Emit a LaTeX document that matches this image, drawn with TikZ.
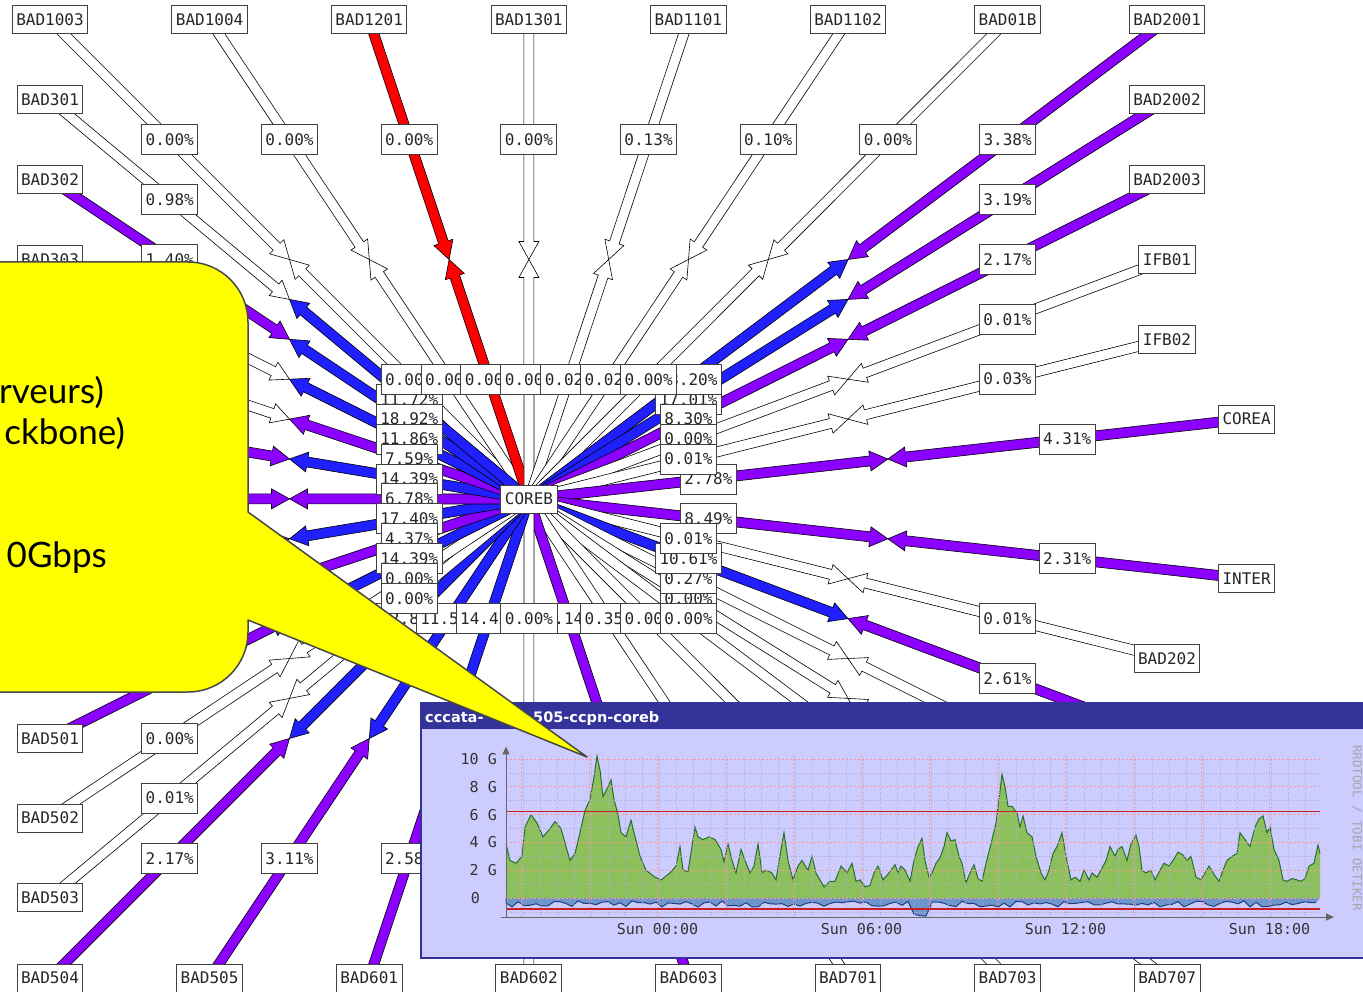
\documentclass[tikz,border=0pt]{standalone}
\usepackage{fontspec}
\setmainfont{DejaVu Sans}
\newfontfamily\mapfont{DejaVu Sans Mono}
\newfontfamily\notefont{Lato}
\usetikzlibrary{calc, backgrounds, arrows.meta}

\definecolor{linkpurple}{RGB}{140,0,255}
\definecolor{linkblue}{RGB}{32,32,255}
\definecolor{linkred}{RGB}{255,0,0}
\definecolor{rrdhead}{RGB}{51,51,153}
\definecolor{rrdbg}{RGB}{204,204,255}
\definecolor{rrdgreen}{RGB}{140,192,92}
\definecolor{rrdgreenline}{RGB}{40,110,50}
\definecolor{rrdblue}{RGB}{110,150,205}
\definecolor{rrdblueline}{RGB}{30,60,130}
\definecolor{rrdred}{RGB}{200,30,40}
\definecolor{gridmajor}{RGB}{255,150,150}
\definecolor{gridminor}{RGB}{175,175,205}
\definecolor{bubble}{RGB}{255,255,0}

% one half of a link: shaft starting at #1, arrow head ending at #2
\newcommand{\halflink}[3]{%
  \coordinate (hb) at ($(#2)!18pt!(#1)$);
  \filldraw[fill=#3, draw=black, line width=0.6pt]
    ($(#1)!5pt!-90:(#2)$) -- ($(hb)!5pt!-90:(#2)$) -- ($(hb)!10pt!-90:(#2)$) -- (#2)
    -- ($(hb)!10pt!90:(#2)$) -- ($(hb)!5pt!90:(#2)$) -- ($(#1)!5pt!90:(#2)$) -- cycle;}

% both halves of a link to COREB, meeting in the middle
\newcommand{\maplink}[3]{%
  \coordinate (mid) at ($(#1)!0.5!(coreb)$);
  \halflink{#1}{mid}{#2}
  \halflink{coreb}{mid}{#3}}

% load labels, near the outer end and near COREB
\newcommand{\outpct}[2]{\node[pctbox] (out-#1) at ($(#1)!0.25!(coreb)$) {#2};}
\newcommand{\inpct}[2]{\node[pctbox] (in-#1) at ($(#1)!0.75!(coreb)$) {#2};}

% inbound traffic, hours offset (pt) / Gbps
\def\rrdin{0/3.9, 4/2.7, 10/2.5, 16/3.0, 19/5.1, 25/6.0, 31/5.4, 37/4.4, 43/4.9, 49/5.5, 55/5.0, 60/3.7, 64/2.7, 69/3.2, 73/4.4, 79/6.3, 84/7.1, 88/8.7, 91/10.2, 94/9.2, 97/7.3, 102/8.0, 105/8.5, 108/7.1, 112/6.0, 115/4.7, 120/4.4, 125/5.6, 128/4.7, 134/3.0, 140/2.0, 149/1.5, 155/1.3, 164/1.8, 170/2.3, 174/3.7, 177/2.0, 182/1.9, 186/3.7, 189/5.1, 192/4.4, 197/4.2, 203/4.4, 209/4.2, 215/3.5, 218/2.6, 222/3.9, 226/2.7, 230/1.8, 235/3.5, 239/2.7, 244/1.8, 248/2.3, 252/3.9, 256/1.8, 260/2.0, 266/1.8, 270/1.3, 275/3.5, 278/4.7, 282/2.7, 287/1.3, 292/2.3, 296/2.7, 302/2.0, 306/3.0, 310/1.8, 314/1.3, 318/0.8, 324/1.2, 329/1.2, 335/2.3, 341/1.8, 346/2.5, 350/1.2, 354/1.3, 359/0.8, 364/0.9, 368/1.8, 372/2.3, 377/1.3, 383/1.8, 389/2.4, 392/1.8, 395/2.3, 399/2.0, 404/1.2, 408/2.7, 412/3.7, 416/4.3, 419/2.7, 423/1.5, 426/1.8, 430/2.5, 434/2.9, 438/3.7, 441/4.7, 445/4.1, 449/4.2, 453/3.0, 456/2.5, 460/1.1, 464/1.8, 468/2.4, 472/1.4, 476/1.2, 480/2.5, 485/3.9, 490/5.4, 493/7.1, 496/8.9, 499/8.0, 502/6.6, 506/6.6, 511/6.1, 514/5.1, 517/5.9, 521/4.7, 526/4.4, 530/3.0, 535/1.8, 539/1.3, 543/2.0, 547/3.2, 551/3.7, 556/4.7, 560/3.0, 565/1.3, 569/1.5, 574/1.2, 578/2.0, 583/1.3, 586/1.8, 591/1.5, 595/2.0, 600/2.7, 604/3.7, 609/3.0, 612/3.5, 616/3.7, 621/2.7, 625/3.9, 630/4.5, 633/3.7, 636/2.0, 640/1.8, 645/2.0, 649/1.3, 654/2.0, 658/2.5, 663/2.3, 667/2.7, 672/3.3, 677/3.1, 681/2.7, 685/3.0, 690/1.5, 695/1.3, 699/1.8, 703/2.3, 708/1.7, 713/1.2, 717/2.0, 721/2.7, 726/3.0, 731/3.2, 734/4.7, 739/4.2, 744/3.7, 749/5.1, 753/5.7, 757/5.9, 761/4.7, 764/5.1, 768/3.5, 773/2.7, 777/1.3, 781/1.2, 786/1.4, 791/1.3, 795/1.2, 799/1.4, 803/2.3, 808/2.5, 812/3.8, 814/3.2}

\begin{document}
\begin{tikzpicture}[x=1pt, y=-1pt,
    nodebox/.style={draw=black!75, fill=white, line width=1pt, inner xsep=4pt, inner ysep=0pt,
      minimum height=28pt, text=black!85, font=\mapfont\fontsize{16}{18}\selectfont},
    pctbox/.style={nodebox, minimum height=30pt},
    axlabel/.style={inner sep=0pt, text=black!80, font=\mapfont\fontsize{15}{17}\selectfont},
    axis/.style={draw=black!60, line width=1pt, -{Triangle[length=8pt, width=7pt]}},
    callout/.style={fill=bubble, draw=black!72, line width=1.5pt, line join=round},
    notetext/.style={anchor=base east, inner sep=0pt, font=\notefont\fontsize{35}{40}\selectfont}
]
\useasboundingbox (0,0) rectangle (1363,992);
\clip (0,0) rectangle (1363,992);

% weathermap nodes
\node[nodebox] (coreb) at (529,499) {COREB};
\foreach \nm/\lbl [count=\i from 0] in {n1003/BAD1003, n1004/BAD1004, n1201/BAD1201, n1301/BAD1301,
    n1101/BAD1101, n1102/BAD1102, n01b/BAD01B, n2001/BAD2001}
  \node[nodebox] (\nm) at ({50+159.6*\i},20) {\lbl};
\foreach \nm/\lbl [count=\i from 0] in {n504/BAD504, n505/BAD505, n601/BAD601, n602/BAD602,
    n603/BAD603, n701/BAD701, n703/BAD703, n707/BAD707}
  \node[nodebox] (\nm) at ({50+159.6*\i},978) {\lbl};
\foreach \nm/\lbl/\j in {n301/BAD301/1, n302/BAD302/2, n303/BAD303/3, n501/BAD501/9, n502/BAD502/10, n503/BAD503/11}
  \node[nodebox] (\nm) at (50,{20+79.8*\j}) {\lbl};
\foreach \nm/\lbl/\j in {n2002/BAD2002/1, n2003/BAD2003/2, ifb01/IFB01/3, ifb02/IFB02/4, n202/BAD202/8}
  \node[nodebox] (\nm) at (1167,{20+79.8*\j}) {\lbl};
\node[nodebox] (corea) at (1246.6,419) {COREA};
\node[nodebox] (inter) at (1246.6,578.6) {INTER};
\foreach \j in {4,...,8}
  \coordinate (l\j) at (50,{20+79.8*\j});
\foreach \j in {9,10,11}
  \coordinate (r\j) at (1167,{20+79.8*\j});

% links
\begin{scope}[on background layer]
  \fill[white] (0,0) rectangle (1363,992);
  \foreach \a/\ca/\cb in {n1003/white/white, n1004/white/white, n1201/linkred/linkred, n1301/white/white,
      n1101/white/white, n1102/white/white, n01b/white/white, n2001/linkpurple/linkblue,
      n2002/linkpurple/linkblue, n2003/linkpurple/linkpurple, ifb01/white/white, ifb02/white/white,
      corea/linkpurple/linkpurple, inter/linkpurple/linkpurple, n202/white/white, r9/linkpurple/linkblue,
      r10/white/white, r11/white/white, n707/white/white, n703/white/white, n701/white/white,
      n603/linkpurple/linkpurple, n602/white/white, n601/linkpurple/linkblue, n505/linkpurple/linkblue,
      n504/linkpurple/linkblue, n503/white/white, n502/white/white, n501/linkpurple/linkblue,
      l8/linkpurple/linkpurple, l7/linkpurple/linkblue, l6/linkpurple/linkpurple, l5/linkpurple/linkblue,
      l4/white/linkpurple, n303/white/linkblue, n302/linkpurple/linkblue, n301/white/linkblue}
    {\maplink{\a}{\ca}{\cb}}
\end{scope}

% load labels
\foreach \a/\p in {n1003/0.00\%, n1004/0.00\%, n1201/0.00\%, n1301/0.00\%, n1101/0.13\%, n1102/0.10\%,
    n01b/0.00\%, n2001/3.38\%, n2002/3.19\%, n2003/2.17\%, ifb01/0.01\%, ifb02/0.03\%, corea/4.31\%,
    inter/2.31\%, n202/0.01\%, r9/2.61\%, n601/2.58\%, n505/3.11\%, n504/2.17\%, n503/0.01\%,
    n502/0.00\%, n302/1.40\%, n301/0.98\%}
  {\outpct{\a}{\p}}
\foreach \a/\p in {n504/12.85\%, n505/11.54\%, n601/14.42\%, n603/1.14\%, n701/0.35\%, n703/0.00\%, n602/0.00\%,
    n301/11.72\%, n302/18.92\%, n303/11.86\%, l4/7.59\%, l5/14.39\%, l6/6.78\%, l7/17.40\%, l8/4.37\%,
    n501/14.39\%, n502/0.00\%, n503/0.00\%,
    r11/0.00\%, n707/0.00\%, r10/0.27\%, r9/10.61\%, n2002/17.01\%, n2003/8.30\%, ifb01/0.00\%,
    corea/2.78\%, ifb02/0.01\%, inter/8.49\%, n202/0.01\%,
    n2001/13.20\%, n1003/0.00\%, n1004/0.00\%, n1201/0.00\%, n1301/0.00\%, n1101/0.02\%, n1102/0.02\%, n01b/0.00\%}
  {\inpct{\a}{\p}}

% traffic graph
\filldraw[fill=rrdbg, draw=rrdhead, line width=1.5pt] (421,703) rectangle (1375,958);
\fill[rrdhead] (421,703) rectangle (1375,729);
\node[anchor=base west, inner sep=0pt, text=white, font=\bfseries\fontsize{14.5}{16}\selectfont] (title1) at (425,722) {cccata-};
\node[anchor=base west, inner sep=0pt, text=white, font=\bfseries\fontsize{14.5}{16}\selectfont] (title2) at (533,722) {505-ccpn-coreb};
\node[rotate=-90, inner sep=0pt, text=black!35, font=\mapfont\fontsize{12.5}{14}\selectfont] (rrdsig) at (1357,828) {RRDTOOL / TOBI OETIKER};

\begin{scope}[shift={(506,898)}, y=13.9pt]
  \fill[rrdgreen] (0,0) \foreach \t/\v in \rrdin { -- (\t,\v) } -- (814,0) -- cycle;
  \draw[rrdgreenline, line width=1pt] (0,3.9) \foreach \t/\v in \rrdin { -- (\t,\v) };
  \pgfmathsetseed{42}
  \fill[rrdblue] (0,0) \foreach \t in {0,6,...,810} { -- (\t,{-0.2-0.45*rnd-0.7*(abs(\t-414)<7)}) } -- (814,0) -- cycle;
  \pgfmathsetseed{42}
  \draw[rrdblueline, line width=1pt] (0,0) \foreach \t in {0,6,...,810} { -- (\t,{-0.2-0.45*rnd-0.7*(abs(\t-414)<7)}) };
  % grid
  \foreach \t in {0,17,...,814}
    \draw[gridminor, line width=0.5pt, dotted] (\t,-1.37) -- (\t,10.3);
  \foreach \t in {15.5,83.5,...,763.5}
    \draw[gridmajor, line width=0.7pt, dash pattern=on 2pt off 2pt] (\t,-1.37) -- (\t,10.3);
  \foreach \v in {-1,1,3,5,7,9}
    \draw[gridminor, line width=0.5pt, dotted] (0,\v) -- (814,\v);
  \foreach \v in {0,2,...,10}
    \draw[gridmajor, line width=0.7pt, dash pattern=on 2pt off 2pt] (0,\v) -- (814,\v);
  \draw[rrdred, line width=1.3pt] (0,6.2) -- (814,6.2);
  \draw[rrdred, line width=1.3pt] (0,-0.8) -- (814,-0.8);
  \draw[axis] (-5,-1.37) -- (828,-1.37);
  \draw[axis] (0,-1.45) -- (0,10.9);
  \foreach \v/\s in {10/10 G, 8/8 G, 6/6 G, 4/4 G, 2/2 G}
    \node[axlabel, anchor=east] (ylab\v) at (-9,\v) {\s};
  \node[axlabel, anchor=east] (ylab0) at (-26,0) {0};
  \foreach \t/\s [count=\k] in {151.5/Sun 00:00, 355.5/Sun 06:00, 559.5/Sun 12:00, 763.5/Sun 18:00}
    \node[axlabel, anchor=base] (time\k) at (\t,-2.65) {\s};
\end{scope}

% speech bubble
\draw[callout] (-40,262) -- (188,262) arc[start angle=-90, end angle=0, radius=60] -- (248,512)
  -- (587,757) -- (248,620) -- (248,632) arc[start angle=0, end angle=90, radius=60] -- (-40,692) -- cycle;
\node[notetext] (note1) at (104,403) {rveurs)};
\node[notetext] (note2) at (125,444) {ckbone)};
\node[notetext] (note3) at (107,567) {0Gbps};
\end{tikzpicture}
\end{document}
